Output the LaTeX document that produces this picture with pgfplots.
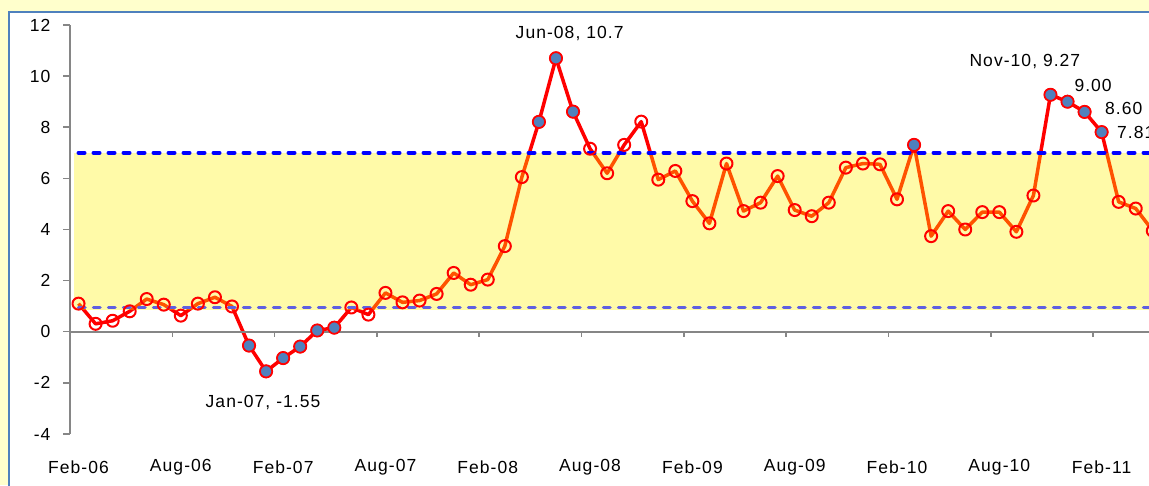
\documentclass[border=0pt]{standalone}
\usepackage{fontspec}
\setmainfont{Liberation Sans}[LetterSpace=6]
\usepackage{pgfplots}
\usepackage{pgfplotstable}
\pgfplotsset{compat=1.18}
\definecolor{bgy}{RGB}{255,255,204}
\definecolor{frameb}{RGB}{79,129,189}
\definecolor{ptblue}{RGB}{79,129,189}
\definecolor{axgray}{RGB}{134,134,134}
\definecolor{lowblue}{RGB}{95,95,225}
\definecolor{topblue}{RGB}{0,0,255}

\pgfplotstableread{
x y
0 1.10
1 0.31
2 0.43
3 0.80
4 1.28
5 1.06
6 0.63
7 1.10
8 1.35
9 0.99
10 -0.54
11 -1.55
12 -1.03
13 -0.58
14 0.05
15 0.16
16 0.95
17 0.67
18 1.52
19 1.15
20 1.22
21 1.48
22 2.30
23 1.84
24 2.04
25 3.35
26 6.05
27 8.21
28 10.7
29 8.61
30 7.16
31 6.20
32 7.31
33 8.22
34 5.95
35 6.29
36 5.11
37 4.24
38 6.58
39 4.72
40 5.05
41 6.09
42 4.76
43 4.52
44 5.05
45 6.42
46 6.58
47 6.55
48 5.18
49 7.31
50 3.74
51 4.72
52 4.00
53 4.68
54 4.68
55 3.91
56 5.33
57 9.27
58 9.00
59 8.60
60 7.81
61 5.08
62 4.82
63 3.95
}\datatable

\pgfplotstableread{
x y
10 -0.54
11 -1.55
12 -1.03
13 -0.58
14 0.05
15 0.16
27 8.21
28 10.7
29 8.61
49 7.31
57 9.27
58 9.00
59 8.60
60 7.81
}\hitable

\begin{document}
\begin{tikzpicture}
\useasboundingbox (0,0) rectangle (1149pt,485pt);
\clip (0,0) rectangle (1149pt,485pt);
\fill[bgy] (0,0) rectangle (1149pt,485pt);
\filldraw[fill=white,draw=frameb,line width=2pt] (9pt,-20pt) rectangle (1200pt,473pt);
\begin{axis}[
  at={(70pt,51pt)}, anchor=south west, scale only axis,
  width=1079pt, height=409pt,
  xmin=-0.5, xmax=62.78, ymin=-4, ymax=12,
  clip=false,
  axis y line=left, axis x line=bottom,
  axis line style={-},
  x axis line style={draw=none},
  y axis line style={draw=axgray, line width=2pt},
  ytick={-4,-2,0,2,4,6,8,10,12},
  yticklabels={-4,-2,0,2,4,6,8,10,12},
  xtick={0,6,12,18,24,30,36,42,48,54,60},
  xticklabels={Feb-06,Aug-06,Feb-07,Aug-07,Feb-08,Aug-08,Feb-09,Aug-09,Feb-10,Aug-10,Feb-11},
  x tick style={draw=none},
  y tick style={draw=axgray,line width=1.5pt},
  tick align=outside, major tick length=7pt,
  tick label style={font=\fontsize{17.5}{20}\selectfont, text=black},
  xticklabel style={anchor=center, yshift=-26pt},
  yticklabel style={anchor=east, xshift=-9pt},
]
\addplot[red, line width=3.5pt, line join=round, mark=o, mark size=6pt,
  mark options={line width=2pt, red, solid}] table[x=x,y=y] {\datatable};
\addplot[only marks, mark=*, mark size=6pt,
  mark options={fill=ptblue, draw=red, line width=1.5pt}] table[x=x,y=y] {\hitable};
\addplot[draw=none, fill=yellow, fill opacity=0.34]
  coordinates {(-0.26,0.86) (62.78,0.86) (62.78,7) (-0.26,7)} -- cycle;
\addplot[topblue, line width=4pt, line cap=round, dash pattern=on 6pt off 9pt]
  coordinates {(0,7) (62.78,7)};
\addplot[lowblue, line width=3.5pt, line cap=round, dash pattern=on 6.5pt off 8.5pt]
  coordinates {(0,0.95) (62.78,0.95)};
\draw[axgray, line width=2pt] (axis cs:-0.5,0) -- (axis cs:62.78,0);
\pgfplotsinvokeforeach{5.5,11.5,17.5,23.5,29.5,35.5,41.5,47.5,53.5,59.5}{
  \draw[axgray, line width=1.5pt] (axis cs:#1,0) -- ([yshift=-5pt]axis cs:#1,0);
}
\node[font=\fontsize{17.5}{20}\selectfont] at (axis cs:28.8,11.65) {Jun-08, 10.7};
\node[font=\fontsize{17.5}{20}\selectfont] at (axis cs:10.82,-2.78) {Jan-07, -1.55};
\node[font=\fontsize{17.5}{20}\selectfont] at (axis cs:55.5,10.59) {Nov-10, 9.27};
\node[font=\fontsize{17.5}{20}\selectfont] at (axis cs:59.5,9.65) {9.00};
\node[font=\fontsize{17.5}{20}\selectfont] at (axis cs:61.3,8.75) {8.60};
\node[font=\fontsize{17.5}{20}\selectfont] at (axis cs:62.0,7.80) {7.81};
\end{axis}
\end{tikzpicture}
\end{document}
